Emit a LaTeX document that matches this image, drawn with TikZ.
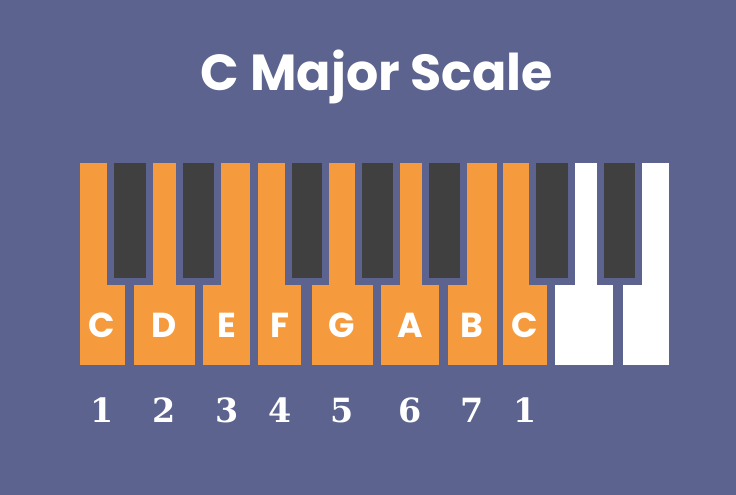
\documentclass[tikz,border=0pt]{standalone}
\usepackage{fontspec}
\setmainfont{Poppins}
\newfontfamily\degreefont{DejaVu Serif}
\definecolor{bgblue}{RGB}{91,99,142}
\definecolor{keyorange}{RGB}{245,155,62}
\definecolor{keyblack}{RGB}{64,64,64}
\tikzset{
  titlelabel/.style={text=white, font=\bfseries\fontsize{38}{38}\selectfont, inner sep=0pt, anchor=base},
  notelabel/.style={text=white, font=\bfseries\fontsize{26}{26}\selectfont, inner sep=0pt, anchor=base},
  degreelabel/.style={text=white, font=\degreefont\bfseries\fontsize{25}{25}\selectfont, inner sep=0pt, anchor=base},
}
\begin{document}
\begin{tikzpicture}[x=0.75pt, y=-0.75pt]
    \fill[bgblue] (0,0) rectangle (736,495);
    \node[titlelabel] (title) at (377,91) {C Major Scale};

    % white keys
    \foreach \l/\r/\c in {80/125/keyorange, 134/195/keyorange, 203/250/keyorange,
        258/301/keyorange, 312/373/keyorange, 381/439/keyorange, 448/497/keyorange,
        503/547/keyorange, 555/613/white, 623/669/white}
        \fill[\c] (\l,163) rectangle (\r,365);

    % black keys, each with a gap round it
    \foreach \l/\r in {114/146, 183/214, 292/322, 362/393, 429/460, 536/568, 604/635} {
        \fill[bgblue] (\l-7,156) rectangle (\r+7,285);
        \fill[keyblack] (\l,163) rectangle (\r,278);
    }

    % note names and scale degrees
    \foreach \x/\note/\deg [count=\i] in {102/C/1, 164/D/2, 227/E/3, 280/F/4,
        342/G/5, 410/A/6, 472/B/7, 525/C/1} {
        \node[notelabel] (note-\i) at (\x,338) {\note};
        \node[degreelabel] (deg-\i) at (\x,423) {\deg};
    }
\end{tikzpicture}
\end{document}
